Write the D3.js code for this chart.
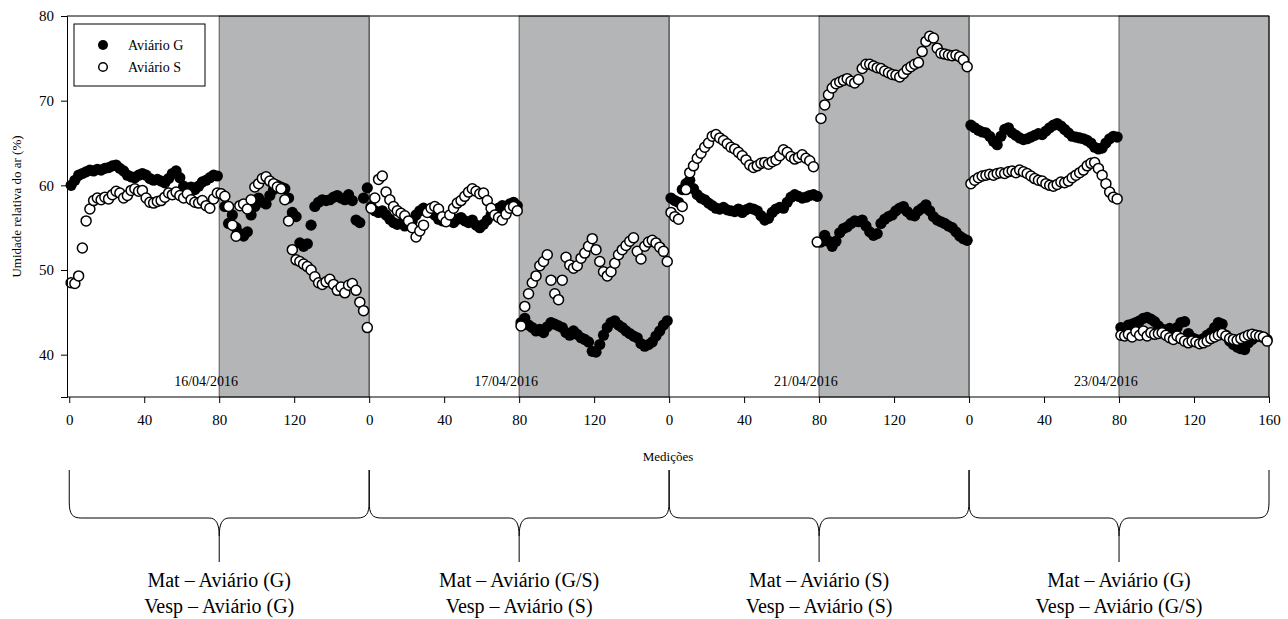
<!DOCTYPE html>
<html>
<head>
<meta charset="utf-8">
<script src="https://cdn.jsdelivr.net/npm/d3@7/dist/d3.min.js"></script>
<style>
  body { margin: 0; background: #fff; }
  text { font-family: "Liberation Serif", "Times New Roman", serif; fill: #000; }
</style>
</head>
<body>
<svg id="chart" width="1288" height="619"></svg>
<script>
// one reading every 2 measurements (m = 1, 3, ... 159), 80 per day
var days = ['16/04/2016', '17/04/2016', '21/04/2016', '23/04/2016'];
var matLabels = ['Mat \u2013 Avi\u00e1rio (G)', 'Mat \u2013 Avi\u00e1rio (G/S)', 'Mat \u2013 Avi\u00e1rio (S)', 'Mat \u2013 Avi\u00e1rio (G)'];
var vespLabels = ['Vesp \u2013 Avi\u00e1rio (G)', 'Vesp \u2013 Avi\u00e1rio (S)', 'Vesp \u2013 Avi\u00e1rio (S)', 'Vesp \u2013 Avi\u00e1rio (G/S)'];
var yTicks = [40, 50, 60, 70, 80];
var xTickLabels = [0, 40, 80, 120];

var g16 = [60, 60.6, 61.2, 61.4, 61.6, 61.8, 61.7, 61.9, 61.8, 62, 62.1, 62.3, 62.4, 62, 61.7, 61.2, 61, 60.9, 61.2, 61.4,
  61.2, 60.8, 60.6, 60.7, 60.5, 60.3, 60.8, 61.4, 61.7, 60.9, 59.9, 59.6, 59.8, 59.5, 59.9, 60.4, 60.6, 60.9, 61.2, 61.1,
  59, 57.5, 55.5, 56.5, 55, 54.3, 54, 54.5, 56.5, 57.5, 58.5, 58, 57.8, 58.8, 59.5, 60, 59.8, 59.6, 58.5, 56.8,
  56.3, 53.2, 52.8, 53.1, 55.3, 57.5, 58, 58.3, 58.2, 58.3, 58.6, 58.8, 58.5, 58.3, 58.9, 58.2, 55.9, 55.6, 58.5, 59.7];
var s16 = [48.5, 48.4, 49.3, 52.6, 55.8, 57.2, 58.2, 58.5, 58.3, 58.6, 58.4, 58.9, 59.3, 59.1, 58.5, 58.8, 59.4, 59.6, 59.3, 59.4,
  58.5, 58, 57.9, 58.1, 58.2, 58.6, 59.1, 58.9, 59.2, 58.8, 58.5, 59, 58.3, 58, 57.9, 58.2, 57.6, 57.3, 58.4, 59.1,
  59, 58.7, 57.5, 55.3, 54, 57.6, 57.8, 57.2, 58.3, 59.8, 60.2, 60.8, 61, 60.5, 60.2, 59.8, 59.6, 58.3, 55.8, 52.4,
  51.2, 51, 50.7, 50.4, 50, 49.2, 48.5, 48.3, 48.6, 48.9, 48.3, 47.6, 48, 47.3, 48.2, 48.4, 47.6, 46.2, 45.2, 43.2];
var g17 = [57.5, 57, 56.8, 57, 56.5, 56, 55.6, 55.4, 55.5, 55.2, 55.4, 55.8, 56.5, 57, 57.3, 57.1, 56.8, 56.5, 56, 55.8,
  56.2, 55.9, 55.6, 56, 56.2, 55.8, 55.6, 55.9, 55.3, 55, 55.4, 55.9, 56.5, 57, 57.3, 57.6, 57.4, 57.8, 58, 57.6,
  43.8, 44.3, 43.5, 43.2, 42.8, 43, 42.6, 43.3, 43.8, 43.6, 43.4, 43.2, 42.6, 42.3, 42.8, 42.4, 42, 41.8, 41.5, 40.4,
  40.3, 41.2, 42.3, 43.2, 43.8, 44, 43.5, 43.2, 42.8, 42.5, 42.2, 42, 41.3, 41, 41.2, 41.5, 42.2, 42.8, 43.5, 44];
var s17 = [57.3, 58.5, 60.7, 61.1, 59.2, 58.3, 57.5, 57, 56.7, 56.4, 55.8, 55, 53.9, 54.6, 55.3, 56.8, 57.3, 57.5, 57.2, 56.3,
  55.7, 56.5, 57.3, 57.9, 58.2, 58.7, 59.2, 59.6, 59.3, 59, 59.1, 58.2, 57.3, 56.5, 56.2, 55.9, 56.6, 57.3, 57.5, 57,
  43.4, 45.7, 47.2, 48.5, 49.3, 50.5, 51, 51.8, 48.8, 47.2, 46.5, 48.8, 51.5, 50.6, 50.2, 50.5, 51.4, 52, 52.8, 53.7,
  52.4, 51, 49.8, 49.3, 49.8, 50.8, 51.8, 52.4, 52.9, 53.4, 53.8, 52.2, 51.3, 52.8, 53.3, 53.5, 53.2, 52.7, 52.2, 51];
var g21 = [58.5, 58.2, 58, 59.5, 60.2, 60.6, 59.6, 58.9, 58.5, 58.3, 57.9, 57.6, 57.3, 57.2, 57.4, 57.1, 57, 56.9, 57.2, 56.8,
  57.1, 57.3, 57.2, 57, 56.4, 55.9, 56.1, 56.8, 57.2, 57.4, 57.3, 58, 58.6, 58.9, 58.7, 58.5, 58.6, 58.8, 58.9, 58.7,
  53.3, 54.1, 53.4, 52.8, 53.4, 54.4, 54.9, 55.1, 55.5, 55.8, 55.7, 55.9, 55.2, 54.5, 54.1, 54.3, 55.5, 56, 56.3, 56.5,
  57, 57.3, 57.5, 56.9, 56.5, 56.4, 57, 57.3, 57.7, 57, 56.3, 55.9, 55.7, 55.5, 55.2, 55, 54.5, 54, 53.7, 53.5];
var s21 = [56.8, 56.3, 56, 57.5, 59.5, 61.5, 62.3, 63.2, 63.8, 64.5, 65, 65.8, 66, 65.6, 65.3, 64.9, 64.5, 64.3, 63.9, 63.5,
  63, 62.4, 62.1, 62.3, 62.6, 62.7, 62.5, 62.8, 63, 63.5, 64.2, 63.9, 63.4, 63.1, 63.3, 63.6, 63.2, 62.9, 62.2, 53.3,
  67.9, 69.5, 70.7, 71.5, 72, 72.2, 72.4, 72.6, 72.3, 72.1, 72.5, 73.8, 74.3, 74.3, 74.1, 73.9, 73.8, 73.5, 73.3, 73.1,
  73, 72.8, 73.2, 73.7, 74, 74.3, 74.5, 75.8, 77, 77.6, 77.4, 76.2, 75.6, 75.5, 75.4, 75.3, 75.4, 75.2, 74.8, 74];
var g23 = [67.1, 66.8, 66.5, 66.3, 66.2, 65.8, 65.2, 64.8, 65.8, 66.6, 66.8, 66.2, 65.9, 65.6, 65.4, 65.5, 65.7, 65.9, 66.1, 66,
  66.4, 66.8, 67.1, 67.3, 67, 66.6, 66.2, 65.8, 65.7, 65.6, 65.5, 65.3, 65, 64.5, 64.3, 64.4, 65, 65.5, 65.8, 65.7,
  43.2, 43, 43.5, 43.6, 43.8, 44, 44.3, 44.4, 44.2, 43.9, 43.4, 43, 42.9, 43.1, 42.9, 43.2, 43.8, 43.9, 42.5, 42,
  41.8, 41.7, 41.9, 42.3, 42.6, 43.2, 43.8, 43.6, 42.3, 41.6, 41.2, 40.9, 40.7, 40.6, 41.4, 41.8, 42.1, 42.2, 42, 41.8];
var s23 = [60.2, 60.6, 60.9, 61.1, 61.2, 61.3, 61.2, 61.4, 61.5, 61.4, 61.6, 61.7, 61.5, 61.8, 61.6, 61.4, 61.1, 60.8, 60.6, 60.5,
  60.2, 60, 59.9, 60.1, 60.4, 60.3, 60.5, 60.9, 61.2, 61.5, 61.8, 62.3, 62.6, 62.7, 62, 61.2, 60.2, 59.2, 58.6, 58.4,
  42.3, 42.2, 42.4, 42.1, 42.7, 42.3, 42.8, 42.2, 42.6, 42.4, 42.5, 42.6, 42.3, 42, 41.8, 42.2, 41.9, 41.6, 41.4, 41.6,
  41.5, 41.3, 41.4, 41.6, 41.9, 42.1, 42.3, 42.5, 42.2, 41.9, 41.8, 41.7, 41.9, 42.1, 42.3, 42.4, 42.3, 42.2, 42.1, 41.6];

var aviarioG = [g16, g17, g21, g23];
var aviarioS = [s16, s17, s21, s23];

var svg = d3.select('#chart');
var plotLeft = 67, plotRight = 1269, plotTop = 16, plotBottom = 397;
var perDay = 160;

// axis starts a hair before measurement 0
var x = d3.scaleLinear().domain([-1.2, perDay * days.length]).range([plotLeft, plotRight]);
var y = d3.scaleLinear().domain([35, 80]).range([plotBottom, plotTop]);

function toPoints(series) {
  var pts = [];
  series.forEach(function (vals, d) {
    vals.forEach(function (v, i) {
      pts.push({ m: d * perDay + 2 * i + 1, v: v });
    });
  });
  return pts;
}

// afternoon shading
svg.append('g').selectAll('rect')
  .data(days).enter()
  .append('rect')
  .attr('x', function (d, i) { return x(i * perDay + 80); })
  .attr('y', plotTop)
  .attr('width', x(80) - x(0))
  .attr('height', plotBottom - plotTop)
  .attr('fill', '#b3b5b7')
  .attr('stroke', '#555')
  .attr('stroke-width', 1);

// frame
svg.append('path')
  .attr('d', 'M' + plotLeft + ',' + plotTop + 'H' + plotRight + 'V' + plotBottom)
  .attr('fill', 'none').attr('stroke', '#000').attr('stroke-width', 1);

// day separators
svg.append('g').selectAll('line')
  .data(days.slice(1)).enter()
  .append('line')
  .attr('x1', function (d, i) { return x((i + 1) * perDay); })
  .attr('x2', function (d, i) { return x((i + 1) * perDay); })
  .attr('y1', plotTop).attr('y2', plotBottom)
  .attr('stroke', '#555');

// markers
svg.append('g').selectAll('circle')
  .data(toPoints(aviarioG)).enter()
  .append('circle')
  .attr('cx', function (d) { return x(d.m); })
  .attr('cy', function (d) { return y(d.v); })
  .attr('r', 5.6)
  .attr('fill', '#000');

svg.append('g').selectAll('circle')
  .data(toPoints(aviarioS)).enter()
  .append('circle')
  .attr('cx', function (d) { return x(d.m); })
  .attr('cy', function (d) { return y(d.v); })
  .attr('r', 5)
  .attr('fill', '#fff')
  .attr('stroke', '#000')
  .attr('stroke-width', 1.5);

// date labels
svg.append('g').selectAll('text')
  .data(days).enter()
  .append('text')
  .attr('x', function (d, i) { return x(i * perDay + 73); })
  .attr('y', 386)
  .attr('text-anchor', 'middle')
  .attr('font-size', 14)
  .text(function (d) { return d; });

// axes
var xTicks = [];
days.forEach(function (d, i) {
  xTickLabels.forEach(function (t) { xTicks.push(i * perDay + t); });
});
xTicks.push(perDay * days.length);

var xAxis = svg.append('g')
  .attr('transform', 'translate(0,' + plotBottom + ')')
  .call(d3.axisBottom(x).tickValues(xTicks).tickSizeOuter(0).tickSize(6).tickPadding(11)
    .tickFormat(function (v) { return v === perDay * days.length ? perDay : v % perDay; }));
xAxis.select('.domain').attr('d', 'M' + plotLeft + ',0H' + plotRight);
xAxis.selectAll('text').attr('font-size', 15).style('font-family', '"Liberation Serif", serif');

var yAxis = svg.append('g')
  .attr('transform', 'translate(' + plotLeft + ',0)')
  .call(d3.axisLeft(y).tickValues(yTicks).tickSizeOuter(0).tickSize(6).tickPadding(7));
yAxis.selectAll('text').attr('font-size', 15).style('font-family', '"Liberation Serif", serif');

svg.append('text')
  .attr('x', (plotLeft + plotRight) / 2).attr('y', 461)
  .attr('text-anchor', 'middle').attr('font-size', 13)
  .text('Medi\u00e7\u00f5es');

svg.append('text')
  .attr('transform', 'translate(21,' + ((plotTop + plotBottom) / 2) + ') rotate(-90)')
  .attr('text-anchor', 'middle').attr('font-size', 13)
  .text('Umidade relativa do ar (%)');

// legend
var legend = svg.append('g');
legend.append('rect')
  .attr('x', 74).attr('y', 24).attr('width', 131).attr('height', 62)
  .attr('fill', '#fff').attr('stroke', '#000').attr('stroke-width', 1);
legend.append('circle').attr('cx', 103).attr('cy', 45).attr('r', 5).attr('fill', '#000');
legend.append('circle').attr('cx', 103).attr('cy', 67).attr('r', 4.3).attr('fill', '#fff')
  .attr('stroke', '#000').attr('stroke-width', 1.5);
legend.append('text').attr('x', 128).attr('y', 50).attr('font-size', 14).text('Avi\u00e1rio G');
legend.append('text').attr('x', 128).attr('y', 72).attr('font-size', 14).text('Avi\u00e1rio S');

// braces under each day
function brace(x0, x1) {
  var mid = (x0 + x1) / 2, t = 470, h = 518, tip = 562;
  return 'M' + x0 + ',' + t +
    'L' + x0 + ',' + (h - 16) +
    'C' + x0 + ',' + (h - 4) + ' ' + (x0 + 3) + ',' + h + ' ' + (x0 + 12) + ',' + h +
    'L' + (mid - 10) + ',' + h +
    'C' + (mid - 3) + ',' + h + ' ' + mid + ',' + (h + 6) + ' ' + mid + ',' + (h + 18) +
    'L' + mid + ',' + tip +
    'M' + mid + ',' + (h + 18) +
    'C' + mid + ',' + (h + 6) + ' ' + (mid + 3) + ',' + h + ' ' + (mid + 10) + ',' + h +
    'L' + (x1 - 12) + ',' + h +
    'C' + (x1 - 3) + ',' + h + ' ' + x1 + ',' + (h - 4) + ' ' + x1 + ',' + (h - 16) +
    'L' + x1 + ',' + t;
}

var braces = svg.append('g').selectAll('g')
  .data(days).enter().append('g');

braces.append('path')
  .attr('d', function (d, i) { return brace(x(i * perDay), x((i + 1) * perDay)); })
  .attr('fill', 'none').attr('stroke', '#000').attr('stroke-width', 1);

braces.append('text')
  .attr('x', function (d, i) { return x(i * perDay + 80); })
  .attr('y', 587)
  .attr('text-anchor', 'middle').attr('font-size', 20)
  .text(function (d, i) { return matLabels[i]; });

braces.append('text')
  .attr('x', function (d, i) { return x(i * perDay + 80); })
  .attr('y', 613)
  .attr('text-anchor', 'middle').attr('font-size', 20)
  .text(function (d, i) { return vespLabels[i]; });
</script>
</body>
</html>
